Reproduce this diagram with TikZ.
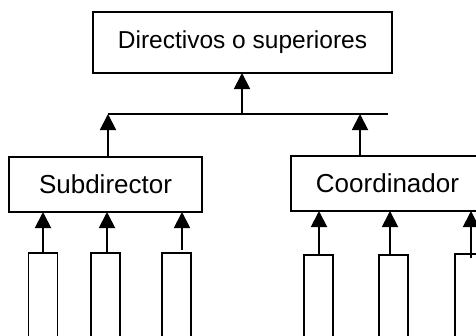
\documentclass[tikz,border=0pt]{standalone}
\usepackage{fontspec}
\setmainfont{Liberation Sans}
\usetikzlibrary{arrows.meta}
\begin{document}
\begin{tikzpicture}[x=1pt,y=-1pt,
  box/.style={draw, line width=1.9pt, rectangle, inner sep=0pt, outer sep=0pt},
  midbox/.style={box, minimum width=193pt, minimum height=55pt, font=\fontsize{26}{30}\selectfont},
  slot/.style={box, minimum width=29pt, minimum height=120pt},
  conn/.style={line width=1.9pt},
  arr/.style={conn, -{Triangle[width=16pt,length=16pt]}}]
\useasboundingbox (0,0) rectangle (476,335);
\clip (0,0) rectangle (476,335);
% top
\node[box, minimum width=299pt, minimum height=61pt, font=\fontsize{24.5}{28}\selectfont] (top) at (242.5,42.5) {Directivos o superiores};
% bus
\coordinate (hl) at (108,114);
\coordinate (hr) at (388,114);
\coordinate (hm) at (242,114);
\coordinate (hc) at (360,114);
\draw[conn] (hl) -- (hr);
\draw[arr] (hm) -- (hm |- top.south);
% middle boxes
\node[midbox] (sub) at (105.5,184.5) {Subdirector};
\node[midbox] (coo) at (387.5,183.5) {Coordinador};
\draw[arr] (hl |- sub.north) -- (hl);
\draw[arr] (hc |- coo.north) -- (hc);
% slots
\node[slot] (r1) at (43,313) {};
\node[slot] (r2) at (105.5,313) {};
\node[slot] (r3) at (176.5,313) {};
\node[slot] (r4) at (318.5,315) {};
\node[slot] (r5) at (393.5,315) {};
\node[slot] (r6) at (469.5,314) {};
\coordinate (a1) at (43,253);
\coordinate (a2) at (107,253);
\coordinate (a3) at (182,250);
\coordinate (a4) at (319,255);
\coordinate (a5) at (390,255);
\coordinate (a6) at (471,258);
\foreach \a/\b in {a1/sub,a2/sub,a3/sub,a4/coo,a5/coo,a6/coo}
  \draw[arr] (\a) -- (\a |- \b.south);
\end{tikzpicture}
\end{document}
